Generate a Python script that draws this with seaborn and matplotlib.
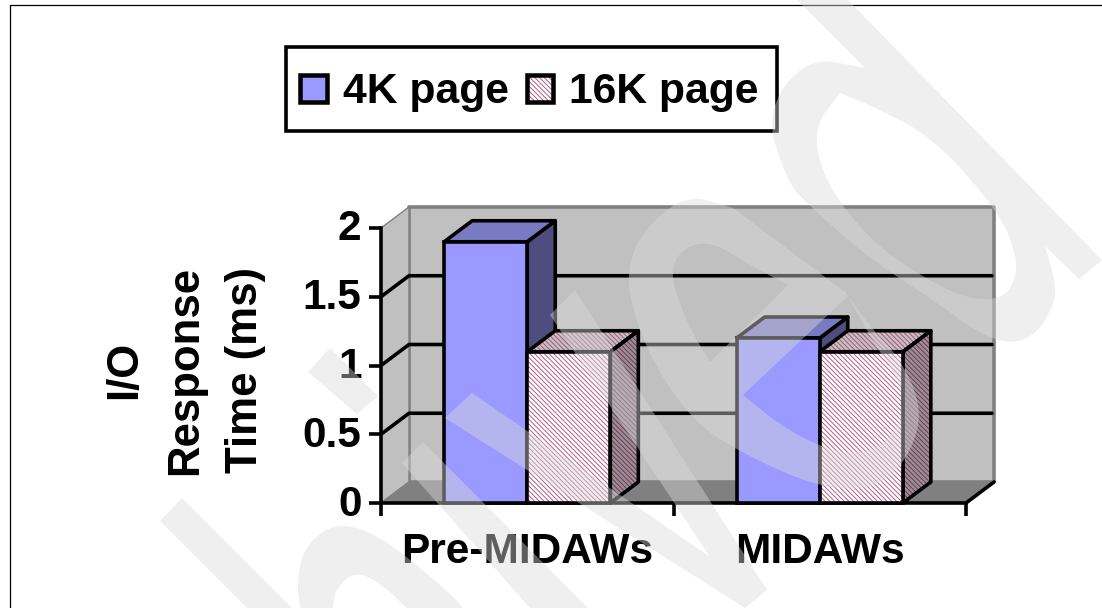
import numpy as np
import pandas as pd
import seaborn as sns
import matplotlib
matplotlib.use("Agg")
import matplotlib.pyplot as plt
from matplotlib.lines import Line2D
from matplotlib.patches import Patch, PathPatch, Polygon, Rectangle
from matplotlib.path import Path
from matplotlib.legend_handler import HandlerPatch
from matplotlib.transforms import IdentityTransform, Affine2D

# Chart values
periods = ["Pre-MIDAWs", "MIDAWs"]
pages = ["4K page", "16K page"]
page_4k_ms = [1.9, 1.2]
page_16k_ms = [1.1, 1.1]
y_ticks = [0, 0.5, 1, 1.5, 2]
y_tick_labels = ["0", "0.5", "1", "1.5", "2"]
y_title = "I/O\nResponse\nTime (ms)"

W, H = 1102, 608
DEPTH = np.array([28.0, 21.0])   # receding offset of the 3-D box, in pixels
LW = 2.6                         # heavy outline, points

BLUE = "#9999ff"
BLUE_TOP = "#7a7ac2"
BLUE_SIDE = "#4d4d80"
PINK_HATCH = "#b0507f"
WALL = "#c0c0c0"
FLOOR = "#808080"
EDGE = "#808080"
DENSE = "\\" * 7

sns.set_theme(style="white")
plt.rcParams["font.family"] = ["Liberation Sans", "DejaVu Sans"]
plt.rcParams["font.weight"] = "bold"
plt.rcParams["hatch.linewidth"] = 0.65
plt.rcParams.update({"text.color": "black", "axes.labelcolor": "black",
                     "xtick.color": "black", "ytick.color": "black"})

fig = plt.figure(figsize=(W / 100, H / 100), dpi=100, facecolor="white")
ax = fig.add_axes([381 / W, 1 - 503 / H, (966 - 381) / W, (503 - 228) / H])
ax.patch.set_visible(False)

df = pd.DataFrame({
    "period": periods * 2,
    "page": [pages[0]] * 2 + [pages[1]] * 2,
    "ms": page_4k_ms + page_16k_ms,
})
sns.barplot(data=df, x="period", y="ms", hue="page", order=periods, hue_order=pages,
            palette=[BLUE, "white"], width=0.568, gap=0, saturation=1,
            legend=False, errorbar=None, ax=ax, edgecolor="black", linewidth=LW)
ax.set_xlim(-0.5, 1.5)
ax.set_ylim(0, 2)
ax.set_xlabel("")
ax.set_ylabel("")

px = IdentityTransform()


def to_px(x, y, back=False):
    p = ax.transData.transform((x, y))
    return p + DEPTH if back else p


def face(points, **kw):
    poly = Polygon(np.array(points), closed=True, transform=px, clip_on=False,
                   joinstyle="round", **kw)
    ax.add_patch(poly)
    return poly


# Box walls and floor
x0, x1 = ax.get_xlim()
y0, y1 = ax.get_ylim()
face([to_px(x0, y0, True), to_px(x1, y0, True), to_px(x1, y1, True), to_px(x0, y1, True)],
     facecolor=WALL, edgecolor=EDGE, linewidth=LW, zorder=0.5)
face([to_px(x0, y0), to_px(x0, y1), to_px(x0, y1, True), to_px(x0, y0, True)],
     facecolor=WALL, edgecolor=EDGE, linewidth=1.0, zorder=0.6)
face([to_px(x0, y0), to_px(x1, y0), to_px(x1, y0, True), to_px(x0, y0, True)],
     facecolor=FLOOR, edgecolor=EDGE, linewidth=1.0, zorder=0.7)

# Gridlines run along the back wall and slant down the side wall
for v in y_ticks[1:-1]:
    a, b, c = to_px(x0, v), to_px(x0, v, True), to_px(x1, v, True)
    ax.add_line(Line2D([a[0], b[0], c[0] - 2], [a[1], b[1], c[1]], transform=px, color="black",
                       lw=LW, clip_on=False, zorder=0.9))
a, b = to_px(x1, y0), to_px(x1, y0, True)
ax.add_line(Line2D([a[0], b[0]], [a[1], b[1]], transform=px, color="black", lw=LW,
                   clip_on=False, zorder=0.9))

# Extrude each bar; the later series sits in front of the earlier one
n = len(periods)
for i, bar in enumerate(ax.patches[:2 * n]):
    left, right = bar.get_x(), bar.get_x() + bar.get_width()
    h = bar.get_height()
    is_16k = i >= n
    base_z = 3 + 2 * int(is_16k)
    bar.set_zorder(base_z + 1)
    bar.set_clip_on(False)
    top_pts = [to_px(left, h), to_px(right, h), to_px(right, h, True), to_px(left, h, True)]
    side_pts = [to_px(right, 0), to_px(right, 0, True), to_px(right, h, True), to_px(right, h)]
    if is_16k:
        bar.set_edgecolor(PINK_HATCH)
        bar.set_hatch(DENSE)
        bar.set_linewidth(0)
        ax.add_patch(Rectangle((left, 0), right - left, h, fill=False, edgecolor="black",
                               linewidth=LW, zorder=base_z + 1.5, clip_on=False))
        face(side_pts, facecolor="#a08c96", edgecolor="#5d3a4c", hatch=DENSE, linewidth=0, zorder=base_z)
        face(top_pts, facecolor="#cdbcc4", edgecolor="#8d5a73", hatch=DENSE, linewidth=0, zorder=base_z)
        face(side_pts, fill=False, edgecolor="black", linewidth=LW, zorder=base_z + 0.1)
        face(top_pts, fill=False, edgecolor="black", linewidth=LW, zorder=base_z + 0.1)
    else:
        face(side_pts, facecolor=BLUE_SIDE, edgecolor="black", linewidth=LW, zorder=base_z)
        face(top_pts, facecolor=BLUE_TOP, edgecolor="black", linewidth=LW, zorder=base_z)

# Axes furniture
sns.despine(ax=ax, top=True, right=True)
for side in ("left", "bottom"):
    ax.spines[side].set_linewidth(LW)
    ax.spines[side].set_color("black")
    ax.spines[side].set_zorder(2.5)
ax.set_yticks(y_ticks, y_tick_labels)
ax.tick_params(axis="y", length=8.5, width=LW, color="black", pad=5.5, labelsize=30.5, left=True)
for lab in ax.get_yticklabels():
    lab.set_transform(lab.get_transform() + Affine2D().translate(0, 3))
ax.set_xticks(range(n), periods)
ax.tick_params(axis="x", which="major", length=0, pad=21, labelsize=30.5, bottom=False)
ax.set_xticks([-0.5, 0.5, 1.5], minor=True)
ax.tick_params(axis="x", which="minor", length=9, width=LW, color="black", bottom=True)
ax.set_ylabel(y_title, fontsize=31.5, fontweight="bold", linespacing=1.6, labelpad=0)
ax.yaxis.set_label_coords((266 - 381) / (966 - 381), (503 - 370) / (503 - 228))


class OutlinedHatch(HandlerPatch):
    """Legend key with a coloured hatch inside a black outline."""

    def create_artists(self, legend, orig, xd, yd, width, height, fontsize, trans):
        fill = Rectangle((-xd, -yd), width, height, facecolor="white", edgecolor=PINK_HATCH,
                         hatch=DENSE, linewidth=0, transform=trans)
        frame = Rectangle((-xd, -yd), width, height, fill=False, edgecolor="black",
                          linewidth=LW * 1.25, transform=trans)
        return [fill, frame]


# Legend box is drawn separately because it is taller than the default padding allows
fig.add_artist(Rectangle((285.5, H - 131), 491, 84, facecolor="white", edgecolor="black",
                         linewidth=LW, transform=px, zorder=7))
handles = [Patch(facecolor=BLUE, edgecolor="black", linewidth=LW * 1.25), Patch(label=pages[1])]
leg = fig.legend(handles, pages, ncols=2, loc="center",
                 bbox_to_anchor=(529.5 / W, 1 - 92.5 / H), bbox_transform=fig.transFigure,
                 fontsize=30.7, frameon=False,
                 handlelength=0.62, handleheight=0.62, handletextpad=0.38, columnspacing=0.42,
                 borderpad=0, borderaxespad=0,
                 handler_map={handles[1]: OutlinedHatch()})
leg.set_zorder(8)
for t in leg.get_texts():
    t.set_fontweight("bold")

# Page frame on the left and top
fig.add_artist(Line2D([9.5 / W, 9.5 / W, 1], [0, 1 - 5 / H, 1 - 5 / H], color="black", lw=0.9,
                      transform=fig.transFigure))


def chaikin(run, rounds=3):
    pts = np.asarray(run, dtype=float)
    for _ in range(rounds):
        q = 0.75 * pts[:-1] + 0.25 * pts[1:]
        r = 0.25 * pts[:-1] + 0.75 * pts[1:]
        mid = np.empty((2 * len(q), 2))
        mid[0::2], mid[1::2] = q, r
        pts = np.vstack([pts[:1], mid, pts[-1:]])
    return pts


def outline(runs, clockwise=True):
    pts = np.vstack([chaikin(r) if len(r) > 2 else np.asarray(r, dtype=float) for r in runs])
    x, y = pts[:, 0], pts[:, 1]
    area = 0.5 * np.sum(x * np.roll(y, -1) - np.roll(x, -1) * y)
    if (area > 0) != clockwise:
        pts = pts[::-1]
    return pts


# Grey diagonal lettering laid across the page
stem_lower_left = [[(182, 498), (160, 521), (247, 608), (292, 608)]]
block_left = [[(330, 348), (308, 372), (357, 414), (378, 396)]]
stem_centre = [[(423, 442), (402, 463), (530, 608), (588, 608)]]
arc_bottom = [[(300, 608), (297, 583), (303, 550), (327, 527), (353, 525), (390, 543), (450, 593), (463, 608)],
              [(463, 608), (407, 608)],
              [(407, 608), (377, 580), (353, 572), (335, 590), (333, 608)]]
zigzag = [[(472, 393), (710, 557)], [(710, 557), (550, 315)], [(550, 315), (575, 290)],
          [(575, 290), (767, 590)], [(767, 590), (745, 608)], [(745, 608), (445, 418)]]
bowl_outer = [[(733, 208), (680, 193), (622, 257), (640, 340), (690, 420), (745, 455), (818, 487),
               (870, 490), (902, 467), (920, 427), (917, 393), (897, 355), (873, 330), (845, 292)]]
bowl_hole_upper = [[(788, 285), (750, 265), (703, 237), (667, 263), (685, 320), (710, 362)]]
bowl_hole_lower = [[(848, 296), (875, 345), (898, 378), (903, 410), (890, 440), (860, 455), (820, 447),
                    (780, 425), (743, 395)]]
stem_top_right = [[(865, 68), (797, 0), (848, 0), (1102, 260), (1079, 279), (1045, 246)],
                  [(1045, 246), (1053, 273), (1057, 300), (1033, 340), (993, 343), (933, 300),
                   (867, 257), (803, 200), (787, 180), (765, 113), (807, 57), (865, 68)]]
stem_top_hole = [[(840, 93), (812, 130), (827, 187), (877, 247), (933, 283), (967, 298), (997, 300),
                  (1013, 287), (1018, 260), (1000, 213), (933, 137), (870, 105), (840, 93)]]

verts, codes = [], []
shapes = [(stem_lower_left, True), (block_left, True), (stem_centre, True), (arc_bottom, True),
          (zigzag, True), (bowl_outer, True), (bowl_hole_upper, False), (bowl_hole_lower, False),
          (stem_top_right, True), (stem_top_hole, False)]
for runs, solid in shapes:
    if runs is stem_top_right:
        first = np.asarray(runs[0], dtype=float)
        pts = outline([first[:2], first[1:3], first[2:4], first[3:5], first[4:6], runs[1]], solid)
    elif runs in (stem_lower_left, block_left, stem_centre):
        pts = outline([np.asarray(runs[0], dtype=float)[[i, i + 1]] for i in range(3)], solid)
    else:
        pts = outline(runs, solid)
    pts = np.column_stack([pts[:, 0], H - pts[:, 1]])
    verts.extend(pts.tolist())
    verts.append(pts[0].tolist())
    codes.extend([Path.MOVETO] + [Path.LINETO] * (len(pts) - 1) + [Path.CLOSEPOLY])

fig.add_artist(PathPatch(Path(verts, codes), facecolor=(218 / 255,) * 3, edgecolor="none",
                         alpha=0.43, transform=px, zorder=20))

fig.savefig("out.png", dpi=100)
